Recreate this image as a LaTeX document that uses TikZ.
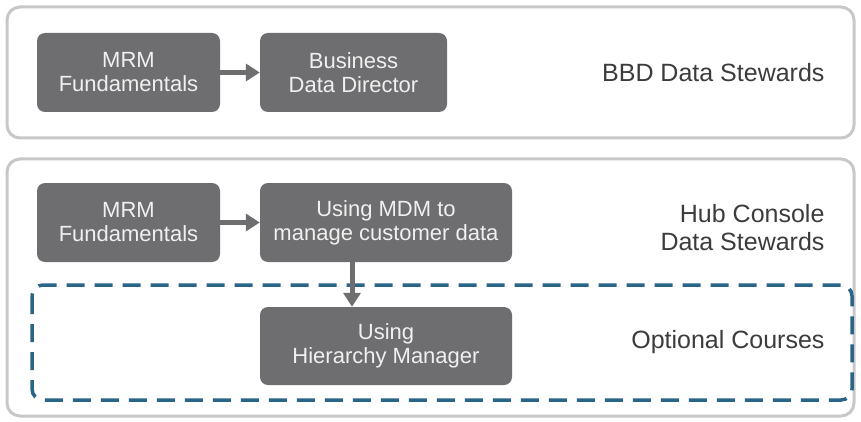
\documentclass[tikz,border=0pt]{standalone}
\usepackage{fontspec}
\setmainfont{Liberation Sans}
\usetikzlibrary{arrows.meta}
\definecolor{coursegray}{RGB}{110,110,112}
\definecolor{framegray}{RGB}{200,200,200}
\definecolor{optblue}{RGB}{42,100,134}
\definecolor{labelgray}{RGB}{60,60,60}
\tikzset{
	course/.style={fill=coursegray, rounded corners=8pt, text=white!94!black, align=center,
		minimum height=79pt, inner sep=0pt, font=\fontsize{22}{24}\selectfont},
	frame/.style={draw=framegray, line width=3pt, rounded corners=13pt},
	optframe/.style={draw=optblue, line width=3.5pt, rounded corners=11pt, dash pattern=on 18pt off 10pt},
	grouplabel/.style={anchor=east, align=right, text=labelgray, font=\fontsize{25}{28}\selectfont},
	flow/.style={draw=coursegray, line width=5pt, -{Triangle[length=14pt,width=17pt]}}
}
\begin{document}
\begin{tikzpicture}[x=1pt, y=-1pt]
			%%%%% START %%%%%
			\useasboundingbox[fill=white] (0, 0) rectangle (861, 422);
			
			% frames
			\draw[frame] (7, 7) rectangle (854, 138);
			\draw[frame] (7, 159) rectangle (854, 416);
			\draw[optframe] (32, 285) rectangle (852, 400);
			
			% BBD data stewards
			\node[course, minimum width=183pt] (mrmA) at (128.5, 72.5) {MRM\\Fundamentals};
			\node[course, minimum width=187pt] (bdd) at (353.5, 72.5) {Business\\Data Director};
			\node[grouplabel] (bbdLabel) at (828, 72.5) {BBD Data Stewards};
			\draw[flow] (mrmA) -- (bdd);
			
			% hub console data stewards
			\node[course, minimum width=183pt] (mrmB) at (128.5, 222.5) {MRM\\Fundamentals};
			\node[course, minimum width=252pt] (mdm) at (386, 222.5) {Using MDM to\\manage customer data};
			\node[grouplabel] (hubLabel) at (828, 228) {Hub Console\\Data Stewards};
			\draw[flow] (mrmB) -- (mdm);
			
			% optional courses
			\node[course, minimum width=252pt, minimum height=78pt] (hm) at (386, 346) {Using\\Hierarchy Manager};
			\node[grouplabel] (optLabel) at (828, 342) {Optional Courses};
			\draw[flow] ([xshift=-34pt]mdm.south) -- ([xshift=-34pt]hm.north);
			
			%%%%% END %%%%%
\end{tikzpicture}
\end{document}
